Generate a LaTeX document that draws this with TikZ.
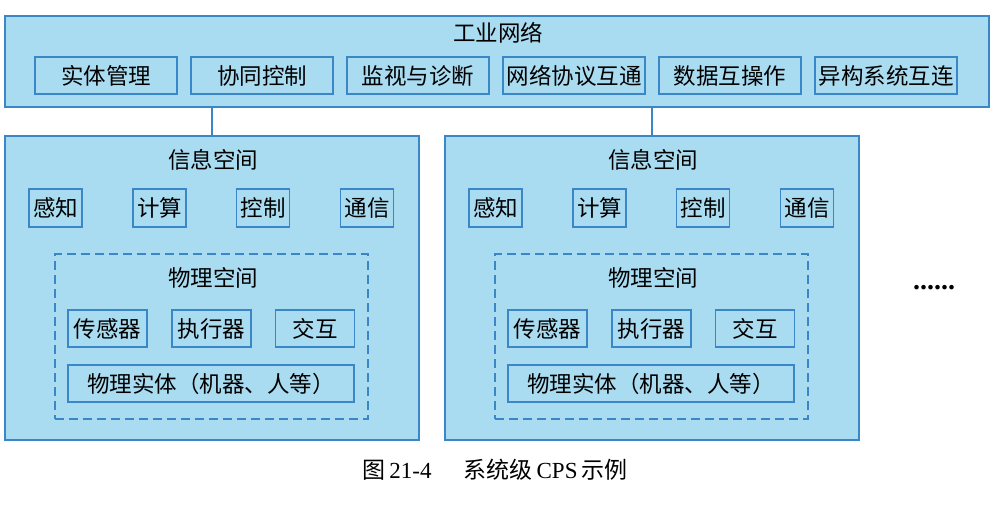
\documentclass[tikz,border=0pt]{standalone}
\usepackage{fontspec}
\setmainfont{Liberation Serif}
\newfontfamily\cjk{Noto Sans CJK SC}
\definecolor{cpsfill}{HTML}{A9DCF1}
\definecolor{cpsline}{HTML}{3A87C8}
\tikzset{
  layer/.style={draw=cpsline, fill=cpsfill, line width=1.4bp, inner sep=0pt},
  item/.style={draw=cpsline, line width=1.2bp, inner sep=0pt,
               minimum height=37bp, font=\cjk\fontsize{22.5bp}{24bp}\selectfont},
  netitem/.style={item, minimum width=142bp},
  infoitem/.style={item, minimum width=53bp, minimum height=38bp},
  physitem/.style={item, minimum width=79bp},
  physzone/.style={draw=cpsline, line width=1.2bp, dash pattern=on 9bp off 5bp,
                   inner sep=0pt},
  heading/.style={font=\cjk\fontsize{22.5bp}{24bp}\selectfont, inner sep=0pt},
}

\begin{document}
\begin{tikzpicture}[x=1bp, y=-1bp]
    \useasboundingbox (0,0) rectangle (998,510);
    % industrial network layer
    \node[layer, minimum width=984bp, minimum height=91bp] (net) at (497, 61.5) {};
    \node[heading] (net-title) at (498, 33) {工业网络};
    \node[netitem] (n1) at (106, 75.5) {实体管理};
    \node[netitem] (n2) at (262, 75.5) {协同控制};
    \node[netitem] (n3) at (418, 75.5) {监视与诊断};
    \node[netitem] (n4) at (574, 75.5) {网络协议互通};
    \node[netitem] (n5) at (730, 75.5) {数据互操作};
    \node[netitem] (n6) at (886, 75.5) {异构系统互连};
    % two CPS units
    \foreach \u/\dx in {a/0, b/440} {
      \node[layer, minimum width=414bp, minimum height=304bp] (info-\u) at (212+\dx, 288) {};
      \node[heading] (info-title-\u) at (213+\dx, 160) {信息空间};
      \node[infoitem] (sense-\u) at (55.5+\dx, 208) {感知};
      \node[infoitem] (comp-\u) at (159.5+\dx, 208) {计算};
      \node[infoitem] (ctrl-\u) at (263+\dx, 208) {控制};
      \node[infoitem] (comm-\u) at (367+\dx, 208) {通信};
      \node[physzone, minimum width=313bp, minimum height=165bp] (phys-\u) at (211.5+\dx, 336.5) {};
      \node[heading] (phys-title-\u) at (213+\dx, 278) {物理空间};
      \node[physitem] (sensor-\u) at (107.5+\dx, 328.5) {传感器};
      \node[physitem] (act-\u) at (211.5+\dx, 328.5) {执行器};
      \node[physitem] (inter-\u) at (315+\dx, 328.5) {交互};
      \node[item, minimum width=286bp] (entity-\u) at (211+\dx, 383.5) {物理实体（机器、人等）};
      \draw[cpsline, line width=1.2bp] (net.south -| info-\u.north) -- (info-\u.north);
    }
    \node[font=\fontsize{28bp}{30bp}\selectfont\bfseries, inner sep=0pt] (more) at (934, 288) {......};
    % caption
    \node[inner sep=0pt, font=\fontsize{23bp}{25bp}\selectfont] (caption) at (495, 470)
      {{\cjk 图}\,21-4\hspace{1.4em}{\cjk 系统级}\,CPS\,{\cjk 示例}};
  \end{tikzpicture}
\end{document}
